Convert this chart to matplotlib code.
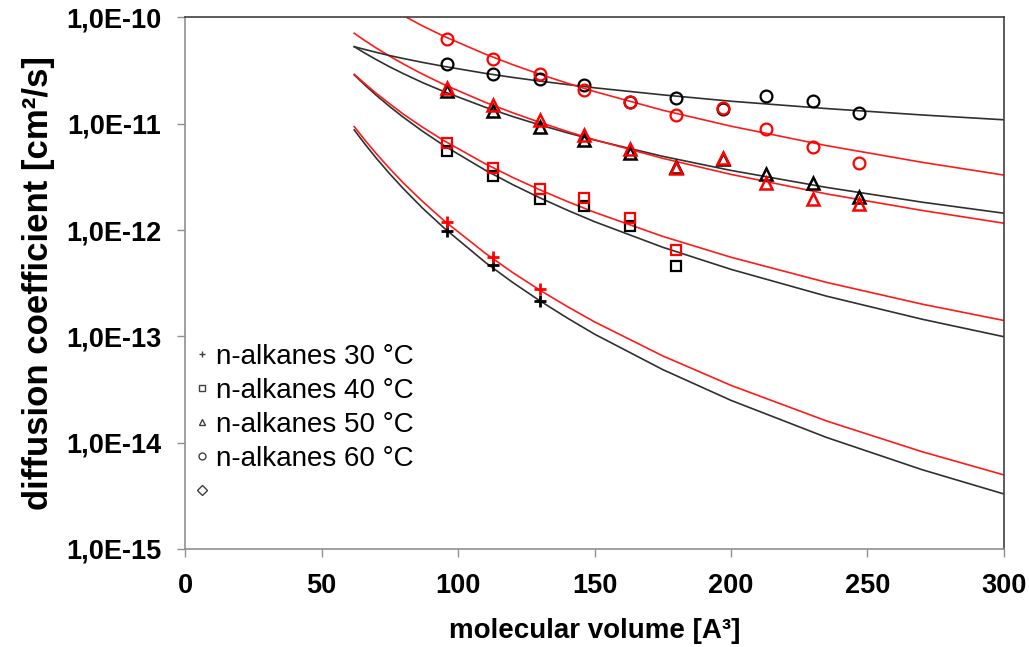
import matplotlib
matplotlib.use("Agg")
import matplotlib.pyplot as plt
from matplotlib.lines import Line2D

plt.rcParams['font.family'] = ['Liberation Sans', 'DejaVu Sans']

# measured n-alkane diffusion coefficients [cm2/s] vs molecular volume [A3]
volume = [96, 113, 130, 146, 163, 180, 197, 213, 230, 247]

d30_black = [9.7e-13, 4.7e-13, 2.15e-13]
d30_red = [1.19e-12, 5.6e-13, 2.8e-13]
d40_black = [5.6e-12, 3.2e-12, 1.95e-12, 1.67e-12, 1.1e-12, 4.6e-13]
d40_red = [6.6e-12, 3.8e-12, 2.45e-12, 2.0e-12, 1.3e-12, 6.5e-13]
d50_black = [2.03e-11, 1.31e-11, 9.3e-12, 7.05e-12, 5.3e-12, 3.9e-12, 4.7e-12, 3.34e-12, 2.79e-12, 2.05e-12]
d50_red = [2.16e-11, 1.49e-11, 1.08e-11, 7.8e-12, 5.75e-12, 3.84e-12, 4.8e-12, 2.77e-12, 1.98e-12, 1.77e-12]
d60_black = [3.66e-11, 2.97e-11, 2.61e-11, 2.31e-11, 1.6e-11, 1.76e-11, 1.39e-11, 1.81e-11, 1.64e-11, 1.26e-11]
d60_red = [6.3e-11, 4.05e-11, 2.92e-11, 2.07e-11, 1.61e-11, 1.22e-11, 1.4e-11, 9.0e-12, 6.0e-12, 4.3e-12]

# trend lines (power fits)
fit_x = [62, 66, 70, 75, 80, 87, 95, 110, 120, 130, 140, 150, 175, 200, 235, 270, 300]
fit30_black = [8.75e-12, 6.40e-12, 4.77e-12, 3.38e-12, 2.45e-12, 1.61e-12, 1.04e-12, 4.97e-13, 3.22e-13,
               2.16e-13, 1.49e-13, 1.05e-13, 4.87e-14, 2.50e-14, 1.12e-14, 5.57e-15, 3.29e-15]
fit30_red = [9.40e-12, 6.97e-12, 5.26e-12, 3.78e-12, 2.77e-12, 1.86e-12, 1.22e-12, 6.05e-13, 3.99e-13,
             2.72e-13, 1.91e-13, 1.37e-13, 6.55e-14, 3.46e-14, 1.60e-14, 8.22e-15, 4.97e-15]
fit40_black = [2.88e-11, 2.30e-11, 1.86e-11, 1.45e-11, 1.15e-11, 8.51e-12, 6.20e-12, 3.66e-12, 2.68e-12,
               2.01e-12, 1.54e-12, 1.20e-12, 6.89e-13, 4.27e-13, 2.39e-13, 1.45e-13, 9.92e-14]
fit40_red = [2.92e-11, 2.37e-11, 1.94e-11, 1.54e-11, 1.23e-11, 9.29e-12, 6.90e-12, 4.20e-12, 3.13e-12,
             2.39e-12, 1.86e-12, 1.47e-12, 8.72e-13, 5.55e-13, 3.22e-13, 2.01e-13, 1.41e-13]
fit50_black = [5.31e-11, 4.60e-11, 4.02e-11, 3.43e-11, 2.96e-11, 2.44e-11, 2.00e-11, 1.43e-11, 1.17e-11,
               9.75e-12, 8.23e-12, 7.03e-12, 4.94e-12, 3.64e-12, 2.52e-12, 1.83e-12, 1.44e-12]
fit50_red = [7.10e-11, 6.03e-11, 5.17e-11, 4.32e-11, 3.65e-11, 2.93e-11, 2.33e-11, 1.59e-11, 1.27e-11,
             1.03e-11, 8.47e-12, 7.07e-12, 4.73e-12, 3.34e-12, 2.19e-12, 1.53e-12, 1.16e-12]
fit60_black = [5.31e-11, 4.99e-11, 4.70e-11, 4.38e-11, 4.11e-11, 3.78e-11, 3.46e-11, 2.98e-11, 2.73e-11,
               2.52e-11, 2.34e-11, 2.18e-11, 1.87e-11, 1.63e-11, 1.39e-11, 1.21e-11, 1.09e-11]
fit60_red = [2.01e-10, 1.71e-10, 1.47e-10, 1.23e-10, 1.04e-10, 8.33e-11, 6.62e-11, 4.52e-11, 3.60e-11,
             2.92e-11, 2.41e-11, 2.01e-11, 1.34e-11, 9.49e-12, 6.23e-12, 4.34e-12, 3.29e-12]

legend_labels = ["n-alkanes 30 °C", "n-alkanes 40 °C", "n-alkanes 50 °C", "n-alkanes 60 °C", ""]
y_ticks = [1e-15, 1e-14, 1e-13, 1e-12, 1e-11, 1e-10]
y_tick_labels = ["1,0E-15", "1,0E-14", "1,0E-13", "1,0E-12", "1,0E-11", "1,0E-10"]
x_ticks = [0, 50, 100, 150, 200, 250, 300]

BLACK = "#000000"
RED = "#ff0000"
LINE_BLACK = "#303030"
LINE_RED = "#ff1a1a"

fig = plt.figure(figsize=(10.29, 6.47), dpi=100)
ax = fig.add_axes([0.1798, 0.1515, 0.7959, 0.8215])

# fitted curves
fits = [
    (fit30_black, LINE_BLACK), (fit30_red, LINE_RED),
    (fit40_black, LINE_BLACK), (fit40_red, LINE_RED),
    (fit50_black, LINE_BLACK), (fit50_red, LINE_RED),
    (fit60_black, LINE_BLACK), (fit60_red, LINE_RED),
]
for ys, c in fits:
    ax.plot(fit_x, ys, color=c, lw=1.2, zorder=2)

# measured points
series = [
    (d30_black, BLACK, "+", 8, 2.0),
    (d30_red, RED, "+", 8, 2.0),
    (d40_black, BLACK, "s", 7.5, 1.6),
    (d40_red, RED, "s", 7.5, 1.6),
    (d50_black, BLACK, "^", 8, 1.8),
    (d50_red, RED, "^", 8, 1.8),
    (d60_black, BLACK, "o", 8.5, 1.6),
    (d60_red, RED, "o", 8.5, 1.6),
]
for ys, c, m, ms, mew in series:
    ax.plot(volume[:len(ys)], ys, linestyle="none", marker=m, ms=ms,
            mfc="none", mec=c, mew=mew, zorder=3)

ax.set_yscale("log")
ax.set_xlim(0, 300)
ax.set_ylim(1e-15, 1e-10)
ax.set_yticks(y_ticks, y_tick_labels)
ax.minorticks_off()
ax.set_xticks(x_ticks, [str(v) for v in x_ticks])

for lab in ax.get_xticklabels() + ax.get_yticklabels():
    lab.set_fontweight("bold")
    lab.set_fontsize(19.5)

ax.tick_params(axis="both", direction="out", length=6, width=1, color="#909090", pad=11)
ax.spines["left"].set_color("#909090")
ax.spines["bottom"].set_color("#909090")
ax.spines["top"].set_color("#404040")
ax.spines["right"].set_color("#404040")
for s in ax.spines.values():
    s.set_linewidth(1.2)

ax.set_xlabel("molecular volume [A³]", fontsize=20, fontweight="bold", labelpad=14)
ax.set_ylabel("diffusion coefficient [cm²/s]", fontsize=25, fontweight="bold", labelpad=8)

# legend
handles = [Line2D([], [], linestyle="none", marker=m, ms=5, mfc="none", mec="#404040", mew=1)
           for m in ["+", "s", "^", "o", "D"]]
ax.legend(handles, legend_labels, loc="upper left", bbox_to_anchor=(0.0, 0.405),
          frameon=False, fontsize=20, handlelength=0.5, handletextpad=0.25,
          labelspacing=0.29, borderaxespad=0.0, borderpad=0.36)

fig.savefig("out.png", dpi=100)
